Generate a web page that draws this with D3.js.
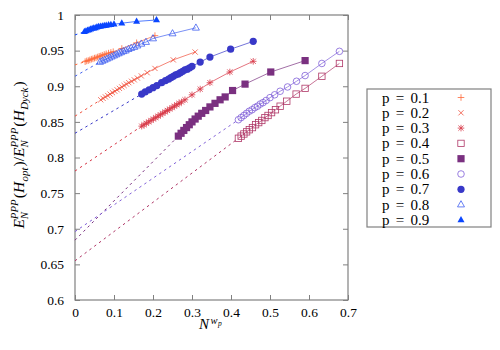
<!DOCTYPE html>
<html>
<head>
<meta charset="utf-8">
<script src="https://cdn.jsdelivr.net/npm/d3@7"></script>
<style>
  body { margin: 0; background: #fff; }
  svg { display: block; }
  text { font-family: "Liberation Serif", "DejaVu Serif", serif; fill: #000; }
</style>
</head>
<body>
<svg id="chart" width="500" height="350"></svg>
<script>
// ── data ─────────────────────────────────────────────────────
const pLabels = ['p = 0.1', 'p = 0.2', 'p = 0.3', 'p = 0.4', 'p = 0.5', 'p = 0.6', 'p = 0.7', 'p = 0.8', 'p = 0.9'];

const xP1 = [0.026,0.030,0.034,0.038,0.042,0.046,0.050,0.054,0.058,0.062,0.066,0.070,0.075,0.080,0.086,0.092,0.098,0.120,0.158,0.205];
const yP1 = [0.9345,0.9355,0.936,0.937,0.938,0.9385,0.9395,0.940,0.941,0.942,0.9425,0.9435,0.9445,0.9455,0.9465,0.9475,0.9485,0.953,0.961,0.971];

const xP2 = [0.066,0.072,0.078,0.084,0.090,0.096,0.102,0.108,0.114,0.120,0.126,0.132,0.138,0.145,0.152,0.160,0.170,0.185,0.205,0.252,0.308];
const yP2 = [0.881,0.883,0.885,0.887,0.889,0.891,0.893,0.895,0.897,0.899,0.901,0.903,0.905,0.907,0.909,0.9115,0.9145,0.919,0.925,0.937,0.948];

const xP3 = [0.171,0.177,0.183,0.189,0.195,0.201,0.207,0.213,0.219,0.225,0.231,0.237,0.243,0.249,0.255,0.261,0.267,0.273,0.282,0.300,0.321,0.346,0.397,0.457];
const yP3 = [0.844,0.846,0.848,0.850,0.852,0.854,0.856,0.858,0.860,0.862,0.864,0.866,0.868,0.870,0.872,0.874,0.876,0.878,0.881,0.888,0.896,0.905,0.920,0.935];

const xP4 = [0.419,0.426,0.433,0.440,0.447,0.455,0.463,0.471,0.479,0.487,0.495,0.504,0.514,0.526,0.543,0.567,0.590,0.633,0.678];
const yP4 = [0.827,0.830,0.833,0.836,0.839,0.842,0.846,0.849,0.852,0.856,0.859,0.863,0.867,0.872,0.879,0.889,0.897,0.914,0.932];

const xP5 = [0.265,0.272,0.279,0.286,0.293,0.300,0.308,0.316,0.325,0.335,0.346,0.359,0.372,0.385,0.404,0.436,0.502,0.590];
const yP5 = [0.830,0.834,0.838,0.842,0.846,0.850,0.854,0.858,0.862,0.866,0.871,0.876,0.881,0.885,0.894,0.903,0.920,0.936];

const xP6 = [0.419,0.426,0.433,0.440,0.447,0.454,0.461,0.468,0.475,0.482,0.490,0.500,0.512,0.526,0.545,0.568,0.590,0.633,0.678];
const yP6 = [0.853,0.856,0.859,0.862,0.865,0.867,0.870,0.872,0.875,0.877,0.880,0.884,0.888,0.893,0.899,0.907,0.915,0.932,0.949];

const xP7 = [0.171,0.180,0.190,0.200,0.210,0.222,0.232,0.240,0.246,0.252,0.258,0.264,0.270,0.276,0.282,0.288,0.294,0.300,0.321,0.346,0.399,0.457];
const yP7 = [0.889,0.892,0.895,0.898,0.901,0.905,0.908,0.910,0.912,0.914,0.916,0.917,0.919,0.921,0.923,0.924,0.926,0.928,0.934,0.941,0.952,0.963];

const xP8 = [0.064,0.070,0.076,0.082,0.088,0.094,0.100,0.106,0.112,0.118,0.124,0.130,0.137,0.144,0.152,0.160,0.170,0.182,0.200,0.250,0.310];
const yP8 = [0.934,0.9355,0.937,0.9385,0.940,0.9415,0.943,0.9445,0.946,0.9475,0.949,0.950,0.952,0.9535,0.955,0.957,0.9595,0.962,0.967,0.974,0.982];

const xP9 = [0.024,0.028,0.032,0.036,0.040,0.044,0.048,0.052,0.056,0.060,0.065,0.070,0.075,0.080,0.086,0.092,0.100,0.120,0.158,0.209];
const yP9 = [0.9765,0.9775,0.9785,0.979,0.980,0.981,0.9815,0.982,0.983,0.9835,0.984,0.9845,0.985,0.9855,0.986,0.9865,0.987,0.9885,0.991,0.993];

// extrapolated fit value at N^wp = 0 (dashed lines)
const fitIntercepts = [0.930, 0.858, 0.781, 0.655, 0.684, 0.696, 0.834, 0.914, 0.972];

const xTicks = [0, 0.1, 0.2, 0.3, 0.4, 0.5, 0.6, 0.7];
const xTickLabels = ['0', '0.1', '0.2', '0.3', '0.4', '0.5', '0.6', '0.7'];
const yTicks = [0.6, 0.65, 0.7, 0.75, 0.8, 0.85, 0.9, 0.95, 1];
const yTickLabels = ['0.6', '0.65', '0.7', '0.75', '0.8', '0.85', '0.9', '0.95', '1'];

// ── styles ───────────────────────────────────────────────────
const colors  = ['#ff6a3a', '#f0503c', '#d83848', '#b03868', '#7a3080', '#8060d8', '#3838c8', '#4060f0', '#0a46ff'];
const markers = ['plus', 'cross', 'star', 'sqOpen', 'sqFill', 'circOpen', 'circFill', 'triOpen', 'triFill'];

const xs = [xP1, xP2, xP3, xP4, xP5, xP6, xP7, xP8, xP9];
const ys = [yP1, yP2, yP3, yP4, yP5, yP6, yP7, yP8, yP9];
const series = pLabels.map((lab, i) => ({
  label: lab,
  pts: xs[i].map((x, j) => [x, ys[i][j]]),
  b0: fitIntercepts[i],
  color: colors[i],
  marker: markers[i]
}));

// ── layout ───────────────────────────────────────────────────
const L = 75, R = 348, T = 15, B = 300;
const svg = d3.select('#chart');
const x = d3.scaleLinear().domain([0, 0.7]).range([L, R]);
const y = d3.scaleLinear().domain([0.6, 1]).range([B, T]);
const FRAME = '#808080';

// ticks (mirrored, pointing inwards)
const axB = svg.append('g').attr('transform', `translate(0,${B})`)
  .call(d3.axisBottom(x).tickValues(xTicks).tickSizeInner(-5).tickSizeOuter(0).tickPadding(7)
    .tickFormat((d, i) => xTickLabels[i]));
const axT = svg.append('g').attr('transform', `translate(0,${T})`)
  .call(d3.axisTop(x).tickValues(xTicks).tickSizeInner(-5).tickSizeOuter(0).tickFormat(''));
const axL = svg.append('g').attr('transform', `translate(${L},0)`)
  .call(d3.axisLeft(y).tickValues(yTicks).tickSizeInner(-5).tickSizeOuter(0).tickPadding(11)
    .tickFormat((d, i) => yTickLabels[i]));
const axR = svg.append('g').attr('transform', `translate(${R},0)`)
  .call(d3.axisRight(y).tickValues(yTicks).tickSizeInner(-5).tickSizeOuter(0).tickFormat(''));
[axB, axT, axL, axR].forEach(a => {
  a.select('.domain').remove();
  a.selectAll('line').attr('stroke', FRAME).attr('stroke-width', 1);
  a.selectAll('text').attr('font-size', 13.5).attr('fill', '#000');
});

svg.append('rect').attr('x', L).attr('y', T).attr('width', R - L).attr('height', B - T)
  .attr('fill', 'none').attr('stroke', FRAME).attr('stroke-width', 1.2);

// ── markers ──────────────────────────────────────────────────
function drawMarker(g, kind, color) {
  const sw = 0.8;
  const plus = 'M-3.3,0H3.3M0,-3.3V3.3';
  const cross = 'M-2.6,-2.6L2.6,2.6M-2.6,2.6L2.6,-2.6';
  const tri = 'M0,-3.9L3.5,2.3L-3.5,2.3Z';
  switch (kind) {
    case 'plus':  g.append('path').attr('d', plus).attr('stroke', color).attr('stroke-width', sw).attr('fill', 'none'); break;
    case 'cross': g.append('path').attr('d', cross).attr('stroke', color).attr('stroke-width', sw).attr('fill', 'none'); break;
    case 'star':  g.append('path').attr('d', plus + cross).attr('stroke', color).attr('stroke-width', sw).attr('fill', 'none'); break;
    case 'sqOpen': g.append('rect').attr('x', -3.2).attr('y', -3.2).attr('width', 6.4).attr('height', 6.4)
      .attr('fill', 'none').attr('stroke', color).attr('stroke-width', sw); break;
    case 'sqFill': g.append('rect').attr('x', -3.6).attr('y', -3.6).attr('width', 7.2).attr('height', 7.2).attr('fill', color); break;
    case 'circOpen': g.append('circle').attr('r', 3.3).attr('fill', 'none').attr('stroke', color).attr('stroke-width', sw); break;
    case 'circFill': g.append('circle').attr('r', 3.6).attr('fill', color); break;
    case 'triOpen': g.append('path').attr('d', tri).attr('fill', 'none').attr('stroke', color).attr('stroke-width', sw); break;
    case 'triFill': g.append('path').attr('d', tri).attr('fill', color); break;
  }
}

// ── series ───────────────────────────────────────────────────
const line = d3.line().x(d => x(d[0])).y(d => y(d[1]));
const plot = svg.append('g');
series.forEach(s => {
  // dashed extrapolation from N^wp = 0 to first measured point
  plot.append('path').datum([[0, s.b0], s.pts[0]]).attr('d', line)
    .attr('fill', 'none').attr('stroke', s.color).attr('stroke-width', 1).attr('stroke-dasharray', '2.5,3.5');
  plot.append('path').datum(s.pts).attr('d', line)
    .attr('fill', 'none').attr('stroke', s.color).attr('stroke-width', 0.7);
  plot.selectAll(null).data(s.pts).enter().append('g')
    .attr('transform', d => `translate(${x(d[0])},${y(d[1])})`)
    .each(function() { drawMarker(d3.select(this), s.marker, s.color); });
});

// ── legend ───────────────────────────────────────────────────
const leg = svg.append('g');
leg.append('rect').attr('x', 367).attr('y', 89).attr('width', 124).attr('height', 138)
  .attr('fill', '#fff').attr('stroke', FRAME).attr('stroke-width', 1.2);
series.forEach((s, i) => {
  const cy = 97.5 + i * 15.3;
  leg.append('text').attr('x', 382).attr('y', cy + 5).attr('font-size', 15)
    .style('word-spacing', '2.5px').style('white-space', 'pre').text(s.label);
  drawMarker(leg.append('g').attr('transform', `translate(461,${cy})`), s.marker, s.color);
});

// ── axis labels (math set by hand) ───────────────────────────
function layoutMath(g, segs, size) {
  let cx = 0;
  const small = size * 0.7;
  segs.forEach(s => {
    if (s.t !== undefined) {
      const el = g.append('text').attr('x', cx).attr('y', 0).attr('font-size', size)
        .style('font-style', s.it ? 'italic' : 'normal').text(s.t);
      cx += el.node().getComputedTextLength() + (s.k || 0);
    } else {
      let w = 0;
      if (s.sup) {
        const el = g.append('text').attr('x', cx).attr('y', -size * 0.42).attr('font-size', small)
          .style('font-style', 'italic').text(s.sup);
        w = Math.max(w, el.node().getComputedTextLength());
      }
      if (s.sub) {
        const el = g.append('text').attr('x', cx).attr('y', size * 0.28).attr('font-size', small)
          .style('font-style', 'italic').text(s.sub);
        w = Math.max(w, el.node().getComputedTextLength());
      }
      cx += w + 1;
    }
  });
  return cx;
}

const yLab = svg.append('g');
const yLabW = layoutMath(yLab, [
  { t: 'E', it: true }, { sup: 'PPP', sub: 'N' }, { t: '(' }, { t: 'H', it: true, k: 0.5 }, { sub: 'opt' }, { t: ')' },
  { t: '/' },
  { t: 'E', it: true }, { sup: 'PPP', sub: 'N' }, { t: '(' }, { t: 'H', it: true, k: 0.5 }, { sub: 'Dyck' }, { t: ')' }
], 15.5);
yLab.attr('transform', `translate(24,${155 + yLabW / 2}) rotate(-90)`);

const xLab = svg.append('g');
const xn = xLab.append('text').attr('x', 0).attr('y', 0).attr('font-size', 15).style('font-style', 'italic').text('N');
const nW = xn.node().getComputedTextLength();
xLab.append('text').attr('x', nW + 1.5).attr('y', -5.5).attr('font-size', 10.5).style('font-style', 'italic').text('w');
xLab.append('text').attr('x', nW + 9).attr('y', -3).attr('font-size', 7.5).style('font-style', 'italic').text('p');
xLab.attr('transform', 'translate(199,329)');
</script>
</body>
</html>
